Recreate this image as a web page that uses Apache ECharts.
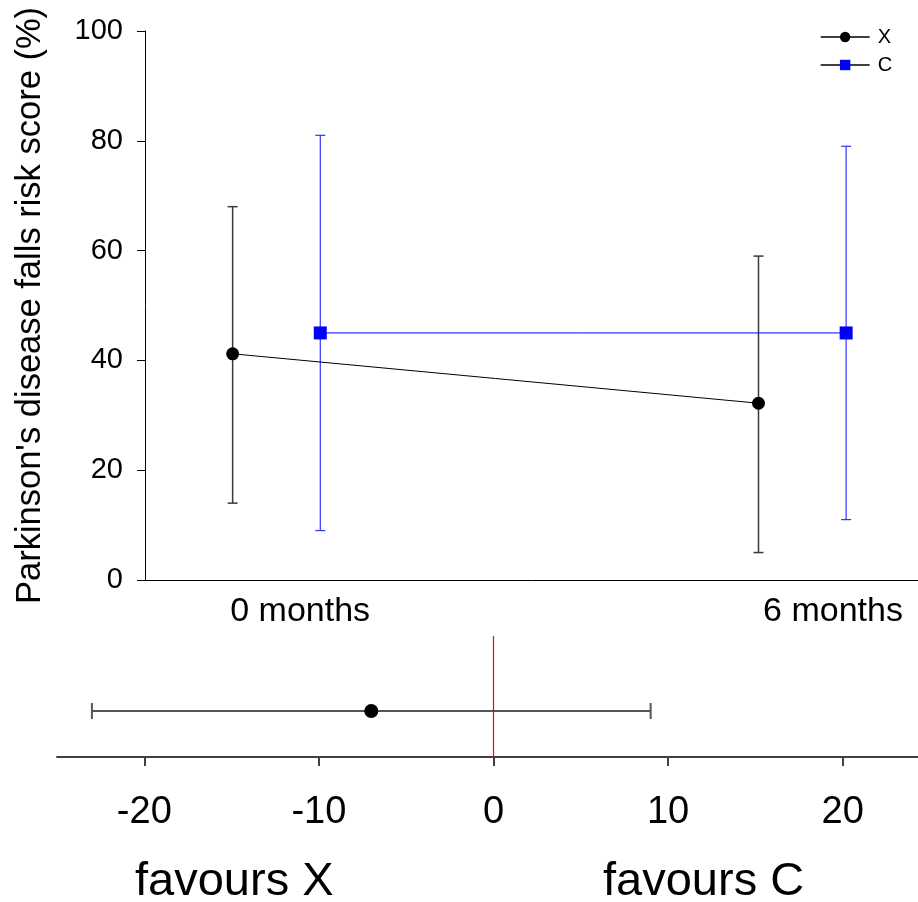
<!DOCTYPE html>
<html>
<head>
<meta charset="utf-8">
<script src="https://cdn.jsdelivr.net/npm/echarts@6/dist/echarts.min.js"></script>
<style>
html,body{margin:0;padding:0;background:#fff;}
#main{width:918px;height:902px;}
</style>
</head>
<body>
<div id="main"></div>
<script>
// 时间点
var timeLabels = ['0 months', '6 months'];
var timeMonths = [0, 6];
// X 组
var xMean = [41.2, 32.2];
var xLow = [14, 5];
var xHigh = [68, 59];
// C 组
var cMean = [45, 45];
var cLow = [9, 11];
var cHigh = [81, 79];
// 组间差异
var diffMean = [-7];
var diffLow = [-23];
var diffHigh = [9];
var diffTicks = [-20, -10, 0, 10, 20];

var FONT = "'Liberation Sans', Arial, sans-serif";
var dodge = 1;              // C 组右移
var labelPos = [0.77, 6.85]; // 时间标签位置

var chart = echarts.init(document.getElementById('main'));

//竖向误差线
function vErr(color, width){
	return function(params, api){
		var x = api.value(0);
		var lo = api.coord([x, api.value(1)]);
		var hi = api.coord([x, api.value(2)]);
		var w = 5;
		var st = {stroke: color, lineWidth: width};
		return {type: 'group', children: [
			{type: 'line', shape: {x1: lo[0], y1: lo[1], x2: hi[0], y2: hi[1]}, style: st},
			{type: 'line', shape: {x1: lo[0]-w, y1: lo[1], x2: lo[0]+w, y2: lo[1]}, style: st},
			{type: 'line', shape: {x1: hi[0]-w, y1: hi[1], x2: hi[0]+w, y2: hi[1]}, style: st}
		]};
	};
}

var xPts = [], xErr = [], cPts = [], cErr = [];
for (var i = 0; i < timeMonths.length; i++) {
	xPts.push([timeMonths[i], xMean[i]]);
	xErr.push([timeMonths[i], xLow[i], xHigh[i]]);
	cPts.push([timeMonths[i] + dodge, cMean[i]]);
	cErr.push([timeMonths[i] + dodge, cLow[i], cHigh[i]]);
}
var diffErr = [], diffPts = [];
for (var k = 0; k < diffMean.length; k++) {
	diffErr.push([diffLow[k], diffHigh[k], 0.38]);
	diffPts.push([diffMean[k], 0.38]);
}

chart.setOption({
	animation: false,
	textStyle: {fontFamily: FONT},
	legend: {
		orient: 'vertical',
		left: 815,
		top: 22,
		itemWidth: 49,
		itemHeight: 13,
		itemGap: 8,
		textStyle: {fontSize: 20, color: '#000', fontFamily: FONT, padding: [0, 0, 0, 3]},
		data: [
			{name: 'X', lineStyle: {color: '#000', width: 1.3}},
			{name: 'C', lineStyle: {color: '#000', width: 1.3}}
		]
	},
	grid: [
		{left: 145, top: 31, width: 773, height: 549, outerBoundsMode: 'none'},
		{left: 57, top: 636, width: 873, height: 121, outerBoundsMode: 'none'}
	],
	xAxis: [
		{
			gridIndex: 0, type: 'value', min: -1, max: 7.82,
			axisLine: {onZero: false, lineStyle: {color: '#000', width: 1}},
			axisTick: {show: false},
			splitLine: {show: false},
			axisLabel: {
				customValues: labelPos,
				fontSize: 34, color: '#000', fontFamily: FONT, margin: 15,
				formatter: function(v){
					var idx = labelPos.indexOf(v);
					return idx >= 0 ? timeLabels[idx] : '';
				}
			}
		},
		{
			gridIndex: 1, type: 'value', min: -25, max: 25,
			axisLine: {onZero: false, lineStyle: {color: '#404040', width: 2}},
			axisTick: {customValues: diffTicks, length: 9, lineStyle: {color: '#404040', width: 2}},
			splitLine: {show: false},
			axisLabel: {customValues: diffTicks, fontSize: 38, color: '#000', fontFamily: FONT, margin: 37}
		}
	],
	yAxis: [
		{
			gridIndex: 0, type: 'value', min: 0, max: 100, interval: 20,
			name: "Parkinson's disease falls risk score (%)",
			nameLocation: 'middle',
			nameGap: 97,
			nameTextStyle: {fontSize: 34.5, color: '#000', fontFamily: FONT},
			axisLine: {show: true, onZero: false, lineStyle: {color: '#000', width: 1}},
			axisTick: {show: true, length: 8, lineStyle: {color: '#000'}},
			splitLine: {show: false},
			axisLabel: {fontSize: 29, color: '#000', fontFamily: FONT, margin: 22}
		},
		{
			gridIndex: 1, type: 'value', min: 0, max: 1, show: false,
			axisLine: {show: false}, axisTick: {show: false},
			axisLabel: {show: false}, splitLine: {show: false}
		}
	],
	series: [
		{
			type: 'custom', xAxisIndex: 0, yAxisIndex: 0, silent: true,
			renderItem: vErr('#3a3a3a', 1.5), data: xErr, z: 2
		},
		{
			type: 'custom', xAxisIndex: 0, yAxisIndex: 0, silent: true,
			renderItem: vErr('#3333ff', 1.2), data: cErr, z: 2
		},
		{
			name: 'X', type: 'line', xAxisIndex: 0, yAxisIndex: 0,
			data: xPts, symbol: 'circle', symbolSize: 13,
			itemStyle: {color: '#000'}, lineStyle: {color: '#000', width: 1}, z: 3
		},
		{
			name: 'C', type: 'line', xAxisIndex: 0, yAxisIndex: 0,
			data: cPts, symbol: 'rect', symbolSize: 13,
			itemStyle: {color: '#0000ff'}, lineStyle: {color: '#0000ff', width: 1}, z: 3
		},
		{
			type: 'custom', xAxisIndex: 1, yAxisIndex: 1, silent: true,
			renderItem: function(params, api){
				var lo = api.coord([api.value(0), api.value(2)]);
				var hi = api.coord([api.value(1), api.value(2)]);
				var h = 8;
				var st = {stroke: '#555', lineWidth: 2};
				return {type: 'group', children: [
					{type: 'line', shape: {x1: lo[0], y1: lo[1], x2: hi[0], y2: hi[1]}, style: st},
					{type: 'line', shape: {x1: lo[0], y1: lo[1]-h, x2: lo[0], y2: lo[1]+h}, style: st},
					{type: 'line', shape: {x1: hi[0], y1: hi[1]-h, x2: hi[0], y2: hi[1]+h}, style: st}
				]};
			},
			data: diffErr,
			z: 2
		},
		{
			// 零线
			type: 'line', xAxisIndex: 1, yAxisIndex: 1, silent: true,
			data: [[0, 0], [0, 1]], symbol: 'none',
			itemStyle: {color: '#ff0000'},
			lineStyle: {color: '#ff0000', width: 1.2}, z: 4
		},
		{
			type: 'scatter', xAxisIndex: 1, yAxisIndex: 1,
			data: diffPts, symbol: 'circle', symbolSize: 14,
			itemStyle: {color: '#000', opacity: 1}, z: 5
		}
	],
	graphic: [
		{type: 'text', left: 135, top: 859, style: {text: 'favours X', fontSize: 47, fill: '#000', fontFamily: FONT}},
		{type: 'text', left: 603, top: 859, style: {text: 'favours C', fontSize: 47, fill: '#000', fontFamily: FONT}}
	]
});
</script>
</body>
</html>
